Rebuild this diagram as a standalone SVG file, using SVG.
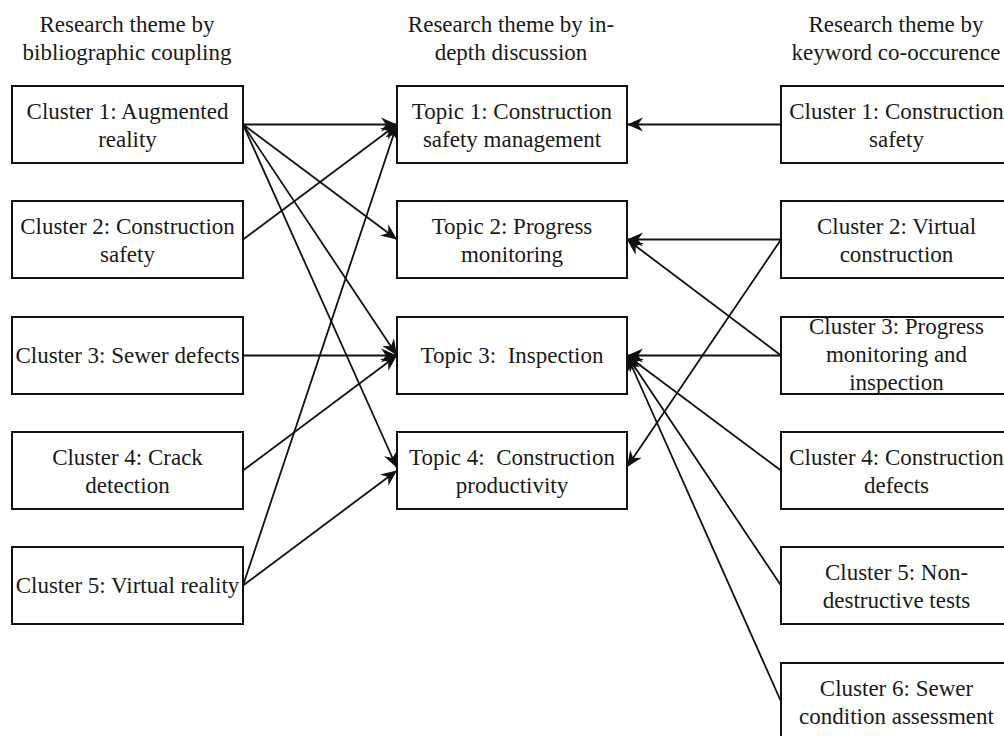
<svg xmlns="http://www.w3.org/2000/svg" width="1004" height="736" viewBox="0 0 1004 736">
<style>
.bg{fill:#ffffff}
.box{fill:#ffffff;stroke:#111;stroke-width:2}
.t{font-family:"Liberation Serif","Times New Roman",serif;font-size:23px;fill:#1a1a1a;text-anchor:middle;white-space:pre}
.c{fill:none;stroke:#111;stroke-width:1.8;marker-end:url(#ah)}
</style>
<defs>
<marker id="ah" markerUnits="userSpaceOnUse" markerWidth="22" markerHeight="18" viewBox="-18 -9 20 18" refX="0" refY="0" orient="auto">
<path d="M0,0 L-16,-7 L-11,0 L-16,7 Z" fill="#111"/>
</marker>
</defs>
<rect class="bg" x="0" y="0" width="1004" height="736"/>

<g id="headings">
<text class="t" x="127" y="32">Research theme by</text>
<text class="t" x="127" y="60">bibliographic coupling</text>
<text class="t" x="511" y="32">Research theme by in-</text>
<text class="t" x="511" y="60">depth discussion</text>
<text class="t" x="896" y="32">Research theme by</text>
<text class="t" x="896" y="60">keyword co-occurence</text>
</g>

<g id="connectors">
<line class="c" x1="243" y1="124.5" x2="397" y2="124.5"/>
<line class="c" x1="243" y1="124.5" x2="397" y2="239.5"/>
<line class="c" x1="243" y1="124.5" x2="397" y2="355.5"/>
<line class="c" x1="243" y1="124.5" x2="397" y2="468"/>
<line class="c" x1="243" y1="239.5" x2="397" y2="124.5"/>
<line class="c" x1="243" y1="355.5" x2="397" y2="355.5"/>
<line class="c" x1="243" y1="470.5" x2="397" y2="355.5"/>
<line class="c" x1="243" y1="585.5" x2="397" y2="124.5"/>
<line class="c" x1="243" y1="585.5" x2="397" y2="470.5"/>
<line class="c" x1="781" y1="124.5" x2="627" y2="124.5"/>
<line class="c" x1="781" y1="239.5" x2="627" y2="239.5"/>
<line class="c" x1="781" y1="239.5" x2="627" y2="467"/>
<line class="c" x1="781" y1="355.5" x2="627" y2="239.5"/>
<line class="c" x1="781" y1="355.5" x2="627" y2="355.5"/>
<line class="c" x1="781" y1="470.5" x2="627" y2="355.5"/>
<line class="c" x1="781" y1="585.5" x2="627" y2="355.5"/>
<line class="c" x1="781" y1="701.5" x2="627" y2="355.5"/>
</g>

<g id="L1"><rect class="box" x="12" y="86" width="231" height="77"/>
<text class="t" x="127.5" y="118.5">Cluster 1: Augmented</text><text class="t" x="127.5" y="146.5">reality</text></g>
<g id="L2"><rect class="box" x="12" y="201" width="231" height="77"/>
<text class="t" x="127.5" y="233.5">Cluster 2: Construction</text><text class="t" x="127.5" y="261.5">safety</text></g>
<g id="L3"><rect class="box" x="12" y="317" width="231" height="77"/>
<text class="t" x="127.5" y="363">Cluster 3: Sewer defects</text></g>
<g id="L4"><rect class="box" x="12" y="432" width="231" height="77"/>
<text class="t" x="127.5" y="464.5">Cluster 4: Crack</text><text class="t" x="127.5" y="492.5">detection</text></g>
<g id="L5"><rect class="box" x="12" y="547" width="231" height="77"/>
<text class="t" x="127.5" y="593">Cluster 5: Virtual reality</text></g>

<g id="T1"><rect class="box" x="397" y="86" width="230" height="77"/>
<text class="t" x="512" y="118.5">Topic 1: Construction</text><text class="t" x="512" y="146.5">safety management</text></g>
<g id="T2"><rect class="box" x="397" y="201" width="230" height="77"/>
<text class="t" x="512" y="233.5">Topic 2: Progress</text><text class="t" x="512" y="261.5">monitoring</text></g>
<g id="T3"><rect class="box" x="397" y="317" width="230" height="77"/>
<text class="t" x="512" y="363">Topic 3:  Inspection</text></g>
<g id="T4"><rect class="box" x="397" y="432" width="230" height="77"/>
<text class="t" x="512" y="464.5">Topic 4:  Construction</text><text class="t" x="512" y="492.5">productivity</text></g>

<g id="R1"><rect class="box" x="781" y="86" width="231" height="77"/>
<text class="t" x="896.5" y="118.5">Cluster 1: Construction</text><text class="t" x="896.5" y="146.5">safety</text></g>
<g id="R2"><rect class="box" x="781" y="201" width="231" height="77"/>
<text class="t" x="896.5" y="233.5">Cluster 2: Virtual</text><text class="t" x="896.5" y="261.5">construction</text></g>
<g id="R3"><rect class="box" x="781" y="317" width="231" height="77"/>
<text class="t" x="896.5" y="334">Cluster 3: Progress</text><text class="t" x="896.5" y="362">monitoring and</text><text class="t" x="896.5" y="390">inspection</text></g>
<g id="R4"><rect class="box" x="781" y="432" width="231" height="77"/>
<text class="t" x="896.5" y="464.5">Cluster 4: Construction</text><text class="t" x="896.5" y="492.5">defects</text></g>
<g id="R5"><rect class="box" x="781" y="547" width="231" height="77"/>
<text class="t" x="896.5" y="579.5">Cluster 5: Non-</text><text class="t" x="896.5" y="607.5">destructive tests</text></g>
<g id="R6"><rect class="box" x="781" y="663" width="231" height="77"/>
<text class="t" x="896.5" y="695.5">Cluster 6: Sewer</text><text class="t" x="896.5" y="723.5">condition assessment</text></g>
</svg>
